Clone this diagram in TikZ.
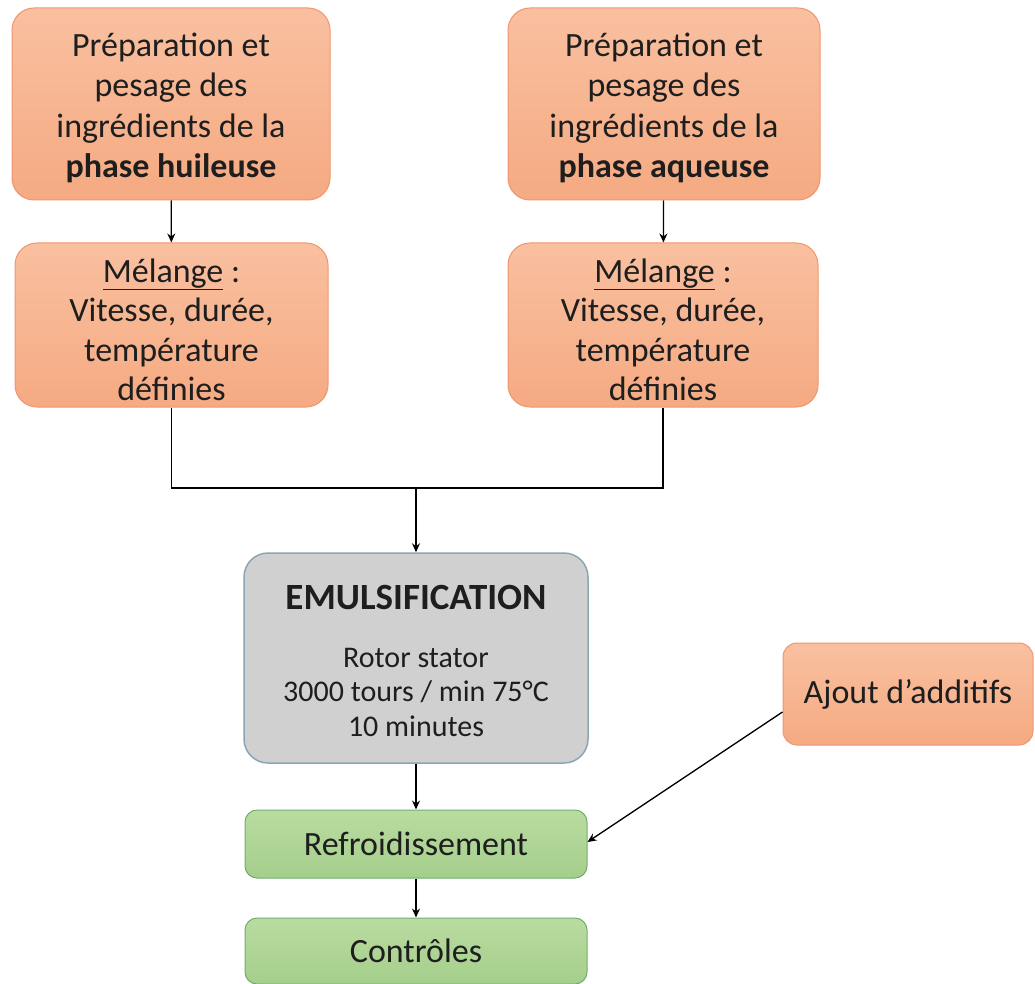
\documentclass[tikz,border=0pt]{standalone}
\usepackage{fontspec}
\setmainfont{Carlito}
\usetikzlibrary{arrows.meta}
\definecolor{orfill}{RGB}{245,170,130}
\definecolor{ortop}{RGB}{249,192,160}
\definecolor{orline}{RGB}{240,150,110}
\definecolor{grfill}{RGB}{208,208,208}
\definecolor{grline}{RGB}{140,165,180}
\definecolor{gnfill}{RGB}{165,206,140}
\definecolor{gntop}{RGB}{185,220,160}
\definecolor{gnline}{RGB}{110,175,110}
\definecolor{txt}{RGB}{30,30,30}
\tikzset{
  orbox/.style={draw=orline, line width=1pt, top color=ortop, bottom color=orfill, rounded corners=22pt, align=center, text=txt, font=\fontsize{34}{40.5}\selectfont, inner sep=0pt},
  grbox/.style={draw=grline, line width=1.5pt, fill=grfill, rounded corners=24pt, align=center, text=txt, font=\fontsize{30}{35}\selectfont, inner sep=0pt},
  gnbox/.style={draw=gnline, line width=1pt, top color=gntop, bottom color=gnfill, rounded corners=12pt, align=center, text=txt, font=\fontsize{34}{40}\selectfont, inner sep=0pt},
  conn/.style={line width=1.3pt, black},
  arr/.style={conn, -{Stealth[length=9pt,width=8pt]}}
}
\begin{document}
\begin{tikzpicture}[x=1pt,y=-1pt]
\useasboundingbox (0,0) rectangle (1035,984);
\node[orbox, minimum width=318pt, minimum height=192pt] (p1) at (171,104) {};
\node[orbox, minimum width=312pt, minimum height=192pt] (p2) at (664,104) {};
\node[align=center, text=txt, font=\fontsize{34}{40.5}\selectfont, inner sep=0pt] (t1) at (171,108) {Préparation et\\pesage des\\ingrédients de la\\\textbf{phase huileuse}};
\node[align=center, text=txt, font=\fontsize{34}{40.5}\selectfont, inner sep=0pt] (t2) at (664,108) {Préparation et\\pesage des\\ingrédients de la\\\textbf{phase aqueuse}};
\node[orbox, minimum width=313pt, minimum height=164pt] (m1) at (171.5,325) {};
\node[orbox, minimum width=310pt, minimum height=164pt] (m2) at (663,325) {};
\node[align=center, text=txt, font=\fontsize{34}{39.5}\selectfont, inner sep=0pt] (u1) at (171.5,330) {\underline{Mélange} :\\Vitesse, durée,\\température\\définies};
\node[align=center, text=txt, font=\fontsize{34}{39.5}\selectfont, inner sep=0pt] (u2) at (663,330) {\underline{Mélange} :\\Vitesse, durée,\\température\\définies};
\node[grbox, minimum width=344pt, minimum height=210pt] (em) at (416,658) {};
\node[text=txt, font=\fontsize{37}{40}\selectfont\bfseries, inner sep=0pt] (et) at (416,597) {EMULSIFICATION};
\node[align=center, text=txt, font=\fontsize{30}{34.5}\selectfont, inner sep=0pt] (eb) at (416,692) {Rotor stator\\3000 tours / min 75°C\\10 minutes};
\node[gnbox, minimum width=342pt, minimum height=68pt] (rf) at (416,844) {Refroidissement};
\node[gnbox, minimum width=342pt, minimum height=66pt] (ct) at (416,951) {Contrôles};
\node[orbox, rounded corners=14pt, minimum width=250pt, minimum height=102pt] (aj) at (908,694) {Ajout d’additifs};
\coordinate (jm) at (416,488);
\draw[arr] (p1) -- (m1);
\draw[arr] (p2) -- (m2);
\draw[conn] (m1.south) -- (m1.south|-jm) -- (m2.south|-jm) -- (m2.south);
\draw[arr] (jm) -- (em.north);
\draw[arr] (em) -- (rf);
\draw[arr] (rf) -- (ct);
\draw[arr] (aj.west|-0,712) -- (rf.east|-0,842);
\end{tikzpicture}
\end{document}
